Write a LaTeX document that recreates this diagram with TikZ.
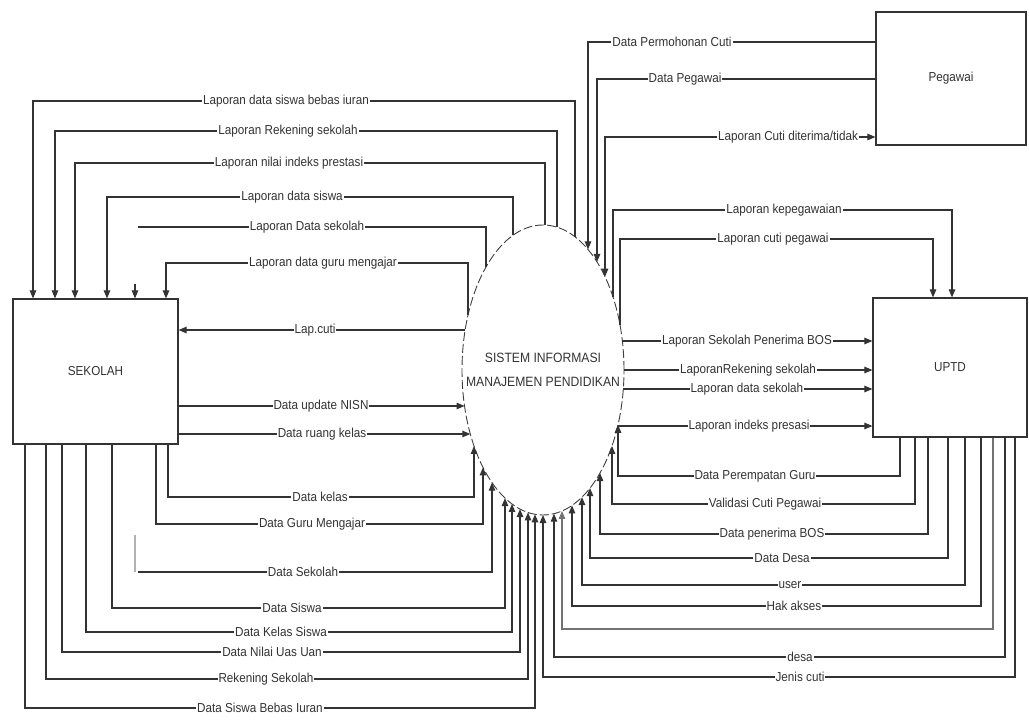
\documentclass[tikz,border=0pt]{standalone}
\usepackage{fontspec}
\setmainfont{Liberation Sans}[FakeStretch=0.9]
\usetikzlibrary{arrows.meta, shapes.geometric}

% border of the central process (centre 543/370, half axes 81/145)
\pgfmathdeclarefunction{eltop}{1}{\pgfmathparse{370-145*sqrt(1-((#1-543)/81)^2)}}
\pgfmathdeclarefunction{elbot}{1}{\pgfmathparse{370+145*sqrt(1-((#1-543)/81)^2)}}
\pgfmathdeclarefunction{elleft}{1}{\pgfmathparse{543-81*sqrt(1-((#1-370)/145)^2)}}
\pgfmathdeclarefunction{elright}{1}{\pgfmathparse{543+81*sqrt(1-((#1-370)/145)^2)}}

\tikzset{
    wire/.style={draw=black!80, line width=1.1pt},
    flow/.style={wire, -{Triangle[length=8pt,width=6.5pt]}},
    lbl/.style={fill=white, inner sep=1pt, text=black!80, font=\fontsize{13}{15}\selectfont},
    entity/.style={draw=black!80, line width=1.2pt, rectangle, inner sep=0pt, text=black!80, font=\fontsize{13}{15}\selectfont},
}

\begin{document}
\begin{tikzpicture}[x=1pt, y=-1pt]
    \path[use as bounding box, fill=white] (0,0) rectangle (1029,720);

    % Nodes
    \node[entity, minimum width=165pt, minimum height=145pt] (sekolah) at (95.5,371.5) {SEKOLAH};
    \node[entity, minimum width=150pt, minimum height=133pt] (pegawai) at (951,78.5) {Pegawai};
    \node[entity, minimum width=154pt, minimum height=139pt] (uptd) at (950,367.5) {UPTD};
    \node[ellipse, draw=black!75, line width=0.9pt, dash pattern=on 9pt off 3pt, minimum width=162pt, minimum height=290pt,
          inner sep=0pt] (sim) at (543,370) {};
    \node[align=center, text=black!80, font=\fontsize{13.5}{24}\selectfont] (simtext) at (sim.center)
          {SISTEM INFORMASI\\MANAJEMEN PENDIDIKAN};

    % Reports down to SEKOLAH
    \foreach \xr/\h/\xl/\lx/\txt [count=\i] in {
        575/101/33/286/Laporan  data siswa bebas iuran,
        557/131/55/288/Laporan Rekening sekolah,
        545/163/75/289/Laporan nilai indeks prestasi,
        513/197/107/292/Laporan data siswa,
        468/263/166/323/Laporan data guru mengajar} {
        \coordinate (et\i) at (\xr,{eltop(\xr)});
        \draw[flow] (et\i) |- (\xl,\h) -- (sekolah.north -| \xl,0);
        \node[lbl] (lt\i) at (\lx,\h) {\txt};
    }
    \coordinate (et6) at (486,{eltop(486)});
    \coordinate (ldsfree) at (138,227);
    \draw[wire] (et6) |- (ldsfree);
    \node[lbl] (lt6) at (307,227) {Laporan Data sekolah};
    \coordinate (stubtop) at (135,284);
    \draw[flow] (stubtop) -- (sekolah.north -| 135,0);

    % SEKOLAH <-> process, straight
    \coordinate (el1) at ({elleft(330)},330);
    \draw[flow] (el1) -- (sekolah.east |- 0,330);
    \node[lbl] (ll1) at (315,330) {Lap.cuti};
    \foreach \y/\lx/\txt [count=\i from 2] in {
        406/321/Data update NISN,
        434/322/Data ruang kelas} {
        \coordinate (el\i) at ({elleft(\y)},\y);
        \draw[flow] (sekolah.east |- 0,\y) -- (el\i);
        \node[lbl] (ll\i) at (\lx,\y) {\txt};
    }

    % Data from SEKOLAH up into the process
    \foreach \xl/\h/\xr/\lx/\txt [count=\i] in {
        168/497/474/320/Data kelas,
        156/524/483/312/Data Guru Mengajar,
        112/608/505/292/Data Siswa,
        86/632/512/281/Data Kelas Siswa,
        62/652/520/272/Data Nilai Uas Uan,
        46/679/528/266/Rekening Sekolah,
        25/708/535/260/Data Siswa Bebas Iuran} {
        \coordinate (eb\i) at (\xr,{elbot(\xr)});
        \draw[flow] (sekolah.south -| \xl,0) |- (\xr,\h) -- (eb\i);
        \node[lbl] (lb\i) at (\lx,\h) {\txt};
    }
    \coordinate (eb8) at (492,{elbot(492)});
    \coordinate (dsfree) at (138,572);
    \coordinate (dsstub) at (135,535);
    \draw[wire, draw=black!30] (dsstub) -- (dsstub |- dsfree);
    \draw[flow] (dsfree) -| (eb8);
    \node[lbl] (lb8) at (303,572) {Data Sekolah};

    % Pegawai
    \coordinate (ep1) at (588,{eltop(588)});
    \coordinate (ep2) at (597,{eltop(597)});
    \coordinate (ep3) at (605,{eltop(605)});
    \draw[flow] (pegawai.west |- 0,42) -| (ep1);
    \node[lbl] (lp1) at (672,42) {Data Permohonan Cuti};
    \draw[flow] (pegawai.west |- 0,79) -| (ep2);
    \node[lbl] (lp2) at (685,79) {Data Pegawai};
    \draw[wire, {Triangle[length=8pt,width=6.5pt]}-{Triangle[length=8pt,width=6.5pt]}] (ep3) |- (pegawai.west |- 0,137);
    \node[lbl] (lp3) at (788,137) {Laporan Cuti diterima/tidak};

    % Reports down to UPTD
    \coordinate (eu1) at (613,{eltop(613)});
    \coordinate (eu2) at (620,{eltop(620)});
    \draw[flow] (eu1) |- (952,210) -- (uptd.north -| 952,0);
    \node[lbl] (lu1) at (784,210) {Laporan kepegawaian};
    \draw[flow] (eu2) |- (933,239) -- (uptd.north -| 933,0);
    \node[lbl] (lu2) at (773,239) {Laporan cuti pegawai};

    % process -> UPTD, straight
    \foreach \y/\lx/\txt [count=\i] in {
        341/747/Laporan Sekolah Penerima BOS,
        370/748/LaporanRekening sekolah,
        389/747/Laporan data sekolah,
        426/749/Laporan indeks presasi} {
        \coordinate (er\i) at ({elright(\y)},\y);
        \draw[flow] (er\i) -- (uptd.west |- 0,\y);
        \node[lbl] (lr\i) at (\lx,\y) {\txt};
    }

    % Data from UPTD up into the process
    \foreach \xr/\h/\xl/\lx/\txt [count=\i] in {
        900/476/618/755/Data Perempatan Guru,
        915/504/612/765/Validasi Cuti Pegawai,
        928/534/600/772/Data penerima BOS,
        948/558/590/782/Data Desa,
        965/585/582/790/user,
        981/606/572/794/Hak akses,
        1005/657/554/800/desa,
        1015/677/543/800/Jenis cuti} {
        \coordinate (ed\i) at (\xl,{elbot(\xl)});
        \draw[flow] (uptd.south -| \xr,0) |- (\xl,\h) -- (ed\i);
        \node[lbl] (ld\i) at (\lx,\h) {\txt};
    }
    \coordinate (ed9) at (562,{elbot(562)});
    \draw[flow, draw=black!55] (uptd.south -| 993,0) |- (562,629) -- (ed9);

\end{tikzpicture}
\end{document}
